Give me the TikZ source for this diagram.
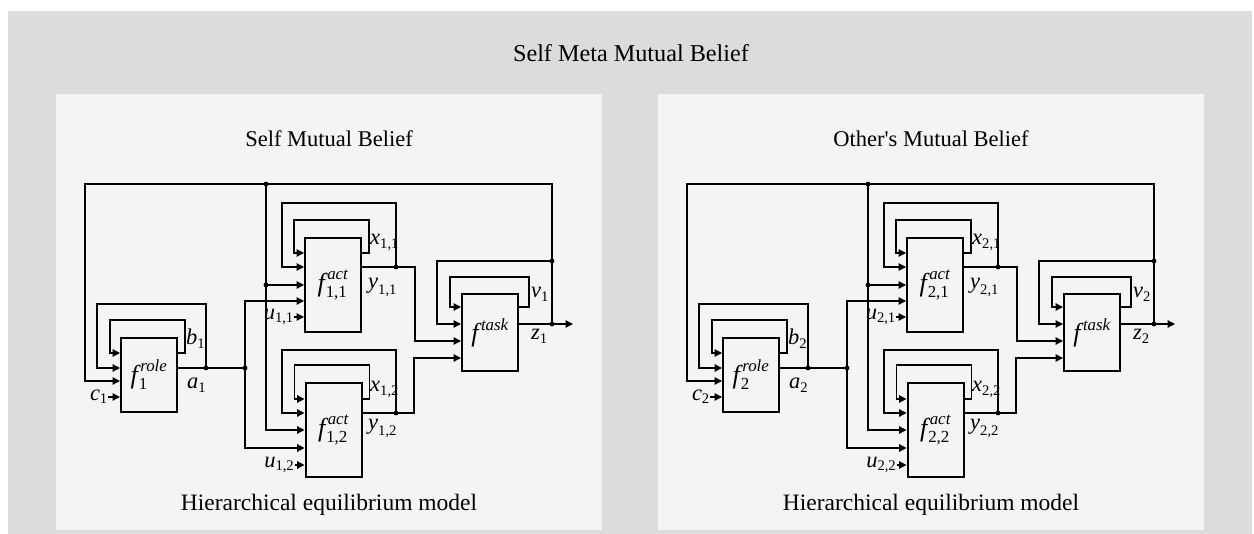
\documentclass[tikz,border=0pt]{standalone}
\usepackage{fontspec}
\setmainfont{Liberation Serif}
\usepackage{amsmath}
\usetikzlibrary{arrows.meta}
\def\defaultscriptratio{.65}
\definecolor{outergray}{HTML}{DCDCDC}
\definecolor{panelgray}{HTML}{F4F4F4}
\newcommand{\fnlab}[2]{$\textit{f}^{\kern2.5pt\textit{#1}}_{\kern1pt\text{#2}}$}
\newcommand{\varlab}[2]{$\textit{#1}_{\text{#2}}$}
\tikzset{
  blk/.style={draw, line width=2pt, minimum width=56pt, inner sep=0pt, font=\fontsize{26}{28}\selectfont},
  wire/.style={line width=1.25pt},
  arr/.style={wire, -{Triangle[length=7.5pt,width=7.5pt]}},
  lbl/.style={inner sep=0pt, font=\fontsize{22.5}{24}\selectfont},
  ttl/.style={font=\fontsize{23.5}{26}\selectfont},
}
\begin{document}
\begin{tikzpicture}[x=1pt,y=-1pt]
\useasboundingbox (0,0) rectangle (1254,534);
\fill[outergray] (8,11) rectangle (1252,534);
\node[ttl, font=\fontsize{24.2}{26}\selectfont] (main) at (631,53) {Self Meta Mutual Belief};

\foreach \p/\dx/\hd in {1/0/{Self Mutual Belief},2/602/{Other\textquotesingle s Mutual Belief}}{
\begin{scope}[xshift=\dx pt]
  \fill[panelgray] (56,94) rectangle (602,530);
  \node[ttl, font=\fontsize{22.5}{26}\selectfont] (head\p) at (329,139) {\hd};
  \node[ttl] (foot\p) at (329,505) {Hierarchical equilibrium model};

  %4 blocchi
  \node[blk, minimum height=74pt] (role\p) at (149,375) {\fnlab{role}{\p}};
  \node[blk, minimum height=94pt] (actA\p) at (333,285) {\fnlab{act}{\p,1}};
  \node[blk, minimum height=94pt] (actB\p) at (333.5,430) {\fnlab{act}{\p,2}};
  \node[blk, minimum height=77pt] (task\p) at (490,333) {$\textit{f}^{\kern2.5pt\textit{task}}$};

  \coordinate (topL\p) at (85,184);
  \coordinate (topD\p) at (266,184);
  \coordinate (topR\p) at (552,184);
  \coordinate (zfb\p) at (552,261);
  \coordinate (zdot\p) at (552,324);
  \coordinate (zend\p) at (573,324);
  \coordinate (adot\p) at (206,368);
  \coordinate (abr\p) at (245,368);
  \coordinate (sdot\p) at (266,285);
  \coordinate (ydotA\p) at (396,267);
  \coordinate (ydotB\p) at (396,413);

  % role
  \draw[arr] ([yshift=22pt]role\p.east) -- ++(7,0) |- ++(-75,-33) |- ([yshift=22pt]role\p.west);
  \draw[wire] (role\p.east |- adot\p) -- (abr\p);
  \draw[arr] (adot\p) |- ++(-109,-64) |- ([yshift=7pt]role\p.west);
  \draw[arr] (zdot\p) -- (topR\p) -- (topL\p) |- ([yshift=-6pt]role\p.west);
  \node[lbl, anchor=east] (c\p) at ([xshift=-12pt,yshift=-22pt]role\p.west) {\varlab{c}{\p}};
  \draw[arr] (c\p.east) -- ([yshift=-22pt]role\p.west);
  \node[lbl, anchor=base west] (b\p) at (186,345) {\varlab{b}{\p}};
  \node[lbl, anchor=base west] (a\p) at (187,389) {\varlab{a}{\p}};

  % act 1
  \draw[arr] ([yshift=32pt]actA\p.east) -- ++(7,0) |- ++(-75,-33) |- ([yshift=32pt]actA\p.west);
  \draw[arr] (actA\p.east |- ydotA\p) -- (ydotA\p) -- ++(19,0) |- ([yshift=-8pt]task\p.west);
  \draw[arr] (ydotA\p) |- ++(-114,-64) |- ([yshift=18pt]actA\p.west);
  \draw[arr] (sdot\p) -- (sdot\p -| actA\p.west);
  \draw[arr] (abr\p) |- ([yshift=-16pt]actA\p.west);
  \node[lbl, anchor=east] (uA\p) at ([xshift=-10pt,yshift=-32pt]actA\p.west) {\varlab{u}{\p,1}};
  \draw[arr] (uA\p.east) -- ([yshift=-32pt]actA\p.west);
  \node[lbl, anchor=base west] (xA\p) at (370,245) {\varlab{x}{\p,1}};
  \node[lbl, anchor=base west] (yA\p) at (368,289) {\varlab{y}{\p,1}};

  % act 2
  \draw[arr] ([yshift=31pt]actB\p.east) -- ++(7,0) |- ++(-75,-34) |- ([yshift=31pt]actB\p.west);
  \draw[arr] (actB\p.east |- ydotB\p) -- (ydotB\p) -- ++(18,0) |- ([yshift=-25pt]task\p.west);
  \draw[arr] (ydotB\p) |- ++(-114,-63) |- ([yshift=17pt]actB\p.west);
  \draw[arr] (topD\p) |- (actB\p.west);
  \draw[arr] (abr\p) |- ([yshift=-18pt]actB\p.west);
  \node[lbl, anchor=east] (uB\p) at ([xshift=-10pt,yshift=-35pt]actB\p.west) {\varlab{u}{\p,2}};
  \draw[arr] (uB\p.east) -- ([yshift=-35pt]actB\p.west);
  \node[lbl, anchor=base west] (xB\p) at (370,392) {\varlab{x}{\p,2}};
  \node[lbl, anchor=base west] (yB\p) at (368,430) {\varlab{y}{\p,2}};

  % task
  \draw[arr] ([yshift=26pt]task\p.east) -- ++(10,0) |- ++(-79,-30) |- ([yshift=26pt]task\p.west);
  \draw[wire] (task\p.east |- zdot\p) -- (zdot\p);
  \draw[arr] (zdot\p) -- (zend\p);
  \draw[arr] (zfb\p) -- ++(-115,0) |- ([yshift=9pt]task\p.west);
  \node[lbl, anchor=base west] (v\p) at (531,298) {\varlab{v}{\p}};
  \node[lbl, anchor=base west] (z\p) at (531,340) {\varlab{z}{\p}};

  \foreach \d in {topD,zfb,zdot,adot,abr,sdot,ydotA,ydotB}
    \fill (\d\p) circle (2.4pt);
\end{scope}
}
\end{tikzpicture}
\end{document}
